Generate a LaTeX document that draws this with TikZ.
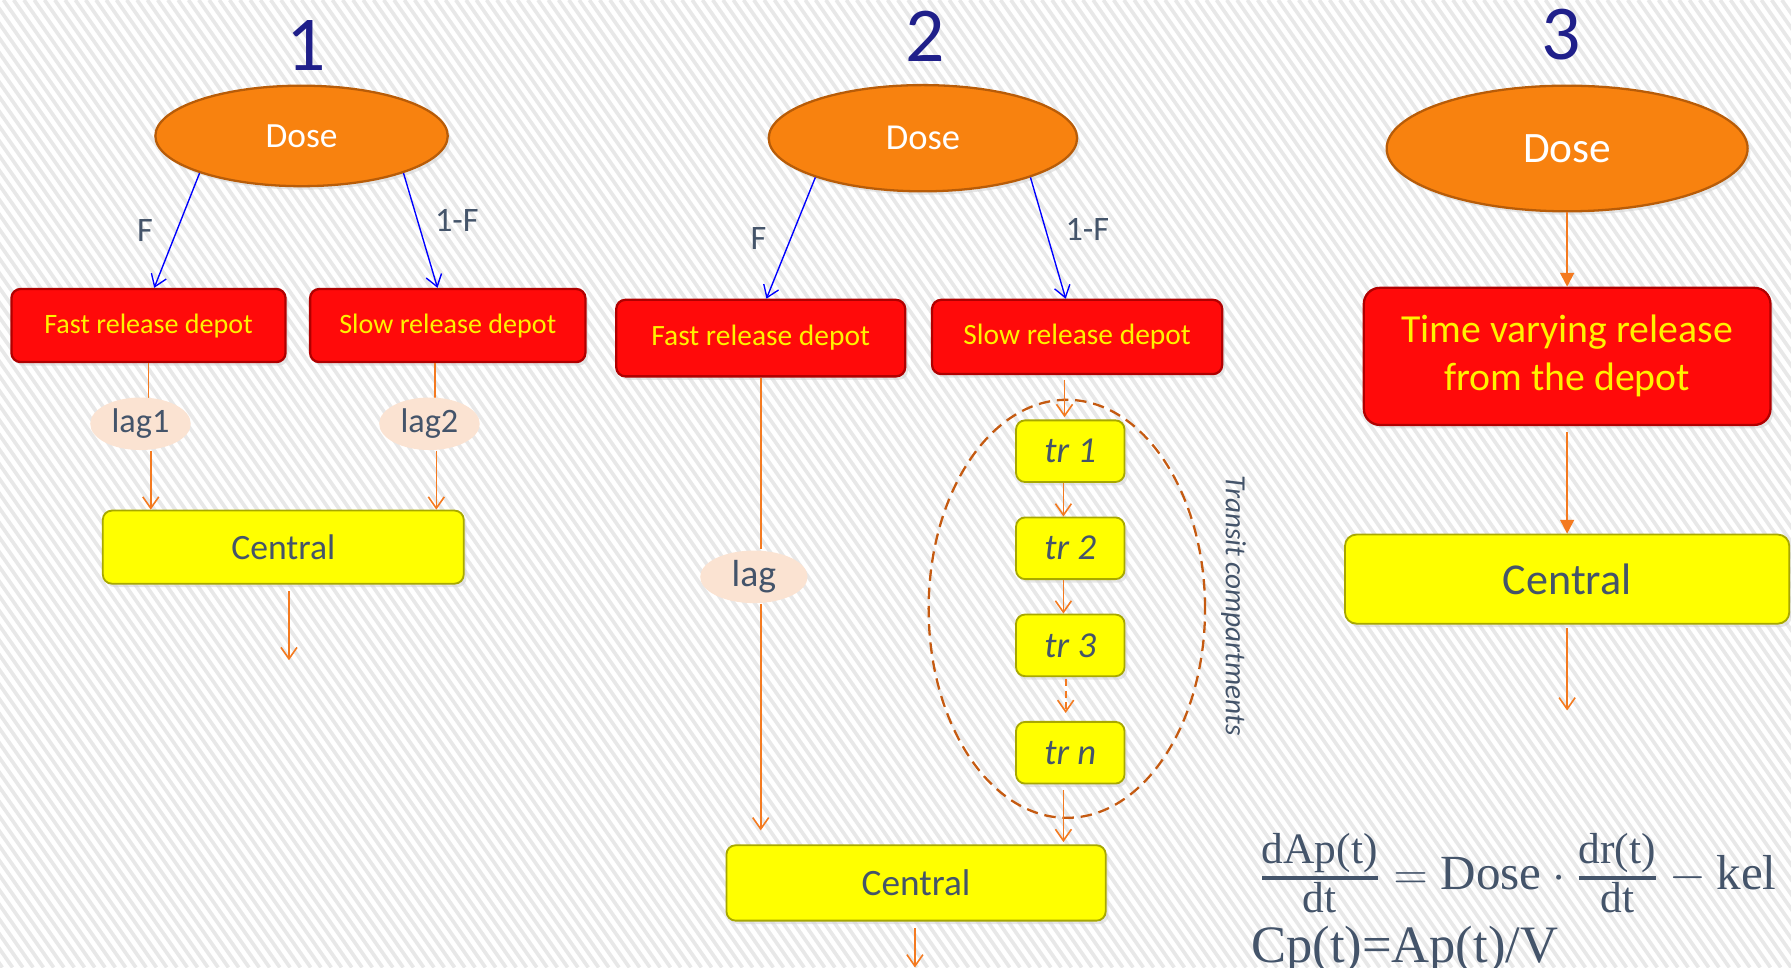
\documentclass[tikz,border=0pt]{standalone}
\usepackage{fontspec}
\setmainfont{Carlito}
\newfontfamily\eqfont{Liberation Serif}
\usetikzlibrary{arrows.meta,shapes.geometric,shadows,calc}
\definecolor{txt}{HTML}{44546A}
\definecolor{navy}{HTML}{1F1F8A}
\definecolor{dosefill}{HTML}{F8820F}
\definecolor{doseedge}{HTML}{B85C08}
\definecolor{depfill}{HTML}{FF0A0A}
\definecolor{depedge}{HTML}{B00000}
\definecolor{cenfill}{HTML}{FFFF00}
\definecolor{cenedge}{HTML}{A8A800}
\definecolor{lagfill}{HTML}{FBE3D2}
\definecolor{arr}{HTML}{F47A20}
\definecolor{grpline}{HTML}{C55A11}
\definecolor{stripecol}{HTML}{E8E8E8}
\newcommand\efs{\eqfont\fontsize{19}{19}\selectfont}
\begin{document}
\begin{tikzpicture}[x=0.5pt,y=-0.5pt,
  shad/.style={drop shadow={shadow xshift=1.2pt,shadow yshift=-1.5pt,fill=black!18}},
  dose/.style={ellipse, fill=dosefill, draw=doseedge, line width=1pt, text=white, inner sep=0pt, shad},
  depot/.style={rectangle, rounded corners=4pt, fill=depfill, draw=depedge, line width=1pt, text=yellow, inner sep=0pt, shad},
  cent/.style={rectangle, rounded corners=4pt, fill=cenfill, draw=cenedge, line width=0.8pt, text=txt, inner sep=0pt, shad},
  trbox/.style={cent, minimum width=47.5pt, minimum height=27pt, font=\fontsize{16}{19}\selectfont\itshape},
  lagn/.style={ellipse, fill=lagfill, text=txt, inner sep=0pt},
  blab/.style={text=txt, font=\fontsize{15}{18}\selectfont, inner sep=0pt},
  num/.style={text=navy, font=\fontsize{34}{40}\selectfont, inner sep=0pt},
  barr/.style={draw=blue, line width=0.6pt, -{Straight Barb[length=5pt,width=7pt]}},
  oarr/.style={draw=arr, line width=0.7pt, -{Straight Barb[length=5pt,width=7pt]}},
  oline/.style={draw=arr, line width=0.7pt},
  tarr/.style={draw=arr, line width=0.9pt, -{Triangle[length=6pt,width=6pt]}},
  grp/.style={ellipse, draw=grpline, line width=1pt, dash pattern=on 5pt off 3pt, minimum width=121pt, minimum height=183pt, inner sep=0pt},
  eq/.style={text=txt, font=\eqfont\fontsize{21.5}{26}\selectfont, inner sep=0pt}
]
\useasboundingbox (0,0) rectangle (1568,847);
\clip (0,0) rectangle (1568,847);
\fill[white] (0,0) rectangle (1568,847);
\foreach \i in {-600,-591,...,1568} \draw[stripecol, line width=1.6pt] (\i,0) -- ++(593,847);

% ---------- Panel 1 ----------
\node[num] (n1) at (268,40) {1};
\node[dose, minimum width=128pt, minimum height=44pt, font=\fontsize{15.5}{18}\selectfont] (d1) at (264,119) {Dose};
\node[depot, minimum width=120pt, minimum height=32pt, font=\fontsize{12.3}{15}\selectfont] (f1) at (130,285) {Fast release depot};
\node[depot, minimum width=120.5pt, minimum height=32pt, font=\fontsize{12.3}{15}\selectfont] (s1) at (392,285) {Slow release depot};
\node[cent, minimum width=158pt, minimum height=32pt, font=\fontsize{15.6}{18}\selectfont] (c1) at (248,479) {Central};
\draw[oline] (f1.south) -- ($(f1.south)+(0,31)$);
\draw[oline] ($(s1.south)+(-11,0)$) -- ($(s1.south)+(-11,31)$);
\node[lagn, minimum width=44pt, minimum height=23pt, font=\fontsize{15}{18}\selectfont] (l1) at (123,371) {lag1};
\node[lagn, minimum width=44pt, minimum height=23pt, font=\fontsize{15}{18}\selectfont] (l2) at (376,371) {lag2};
\draw[oarr] ($(f1.south|-l1.south)+(2,0)$) -- ($(f1.south|-c1.north)+(2,0)$);
\draw[oarr] ($(s1.south|-l2.south)+(-10,0)$) -- ($(s1.south|-c1.north)+(-10,0)$);
\draw[barr] (d1.200) -- ($(f1.north)+(5,0)$);
\draw[barr] (d1.340) -- ($(s1.north)+(-9,0)$);
\node[blab] (lF1) at (127,202) {F};
\node[blab] (lG1) at (400,193) {1-F};
\coordinate (e1) at (253,578);
\draw[oarr] ($(c1.south)+(5,6)$) -- (e1);

% ---------- Panel 2 ----------
\node[num] (n2) at (810,32) {2};
\node[dose, minimum width=135pt, minimum height=46.5pt, font=\fontsize{16}{19}\selectfont] (d2) at (808,121) {Dose};
\node[depot, minimum width=126.5pt, minimum height=33.5pt, font=\fontsize{12.9}{15}\selectfont] (f2) at (666,296) {Fast release depot};
\node[depot, minimum width=127pt, minimum height=32.5pt, font=\fontsize{12.9}{15}\selectfont] (s2) at (943,295) {Slow release depot};
\node[cent, minimum width=166pt, minimum height=33pt, font=\fontsize{16.3}{19}\selectfont] (c2) at (802,773) {Central};
\draw[oline] (f2.south) -- ($(f2.south)+(0,150)$);
\node[lagn, minimum width=47pt, minimum height=23pt, font=\fontsize{16.5}{19}\selectfont] (l3) at (660,505) {lag};
\coordinate (e2a) at (666,727);
\draw[oarr] (f2.south|-l3.south) -- (e2a);
\draw[barr] (d2.200) -- ($(f2.north)+(5,0)$);
\draw[barr] (d2.340) -- ($(s2.north)+(-10,0)$);
\node[blab] (lF2) at (664,209) {F};
\node[blab] (lG2) at (952,201) {1-F};

\node[grp] (g) at (934,533) {};
\node[trbox] (t1) at (937,395) {tr 1};
\node[trbox] (t2) at (937,480) {tr 2};
\node[trbox] (t3) at (937,565) {tr 3};
\node[trbox] (tn) at (937,659) {tr \textit{n}};
\node[text=txt, font=\fontsize{12.8}{15}\selectfont\itshape, rotate=-90, inner sep=0pt] (tcl) at (1080,530) {Transit compartments};

\draw[oarr] ($(s2.south)+(-11,4)$) -- ($(t1.north)+(-5,-2)$);
\draw[oarr] ($(t1.south)+(-6,0)$) -- ($(t2.north)+(-6,0)$);
\draw[oarr] ($(t2.south)+(-6,0)$) -- ($(t3.north)+(-6,0)$);
\draw[oarr, dash pattern=on 3pt off 2pt] ($(t3.south)+(-4,2)$) -- ($(tn.north)+(-4,-7)$);
\draw[oarr] ($(tn.south)+(-6,5)$) -- ($(c2.north)+(129,-2)$);
\coordinate (e2) at (801,847);
\draw[oarr] ($(c2.south)+(-1,6)$) -- (e2);

% ---------- Panel 3 ----------
\node[num] (n3) at (1367,30) {3};
\node[dose, minimum width=158pt, minimum height=55pt, font=\fontsize{19}{22}\selectfont] (d3) at (1372,130) {Dose};
\node[depot, rounded corners=7pt, minimum width=178pt, minimum height=60pt, align=center, font=\fontsize{17.4}{21}\selectfont] (tv) at (1372,312) {Time varying release\\from the depot};
\node[cent, rounded corners=5pt, minimum width=194.5pt, minimum height=39pt, font=\fontsize{19.3}{22}\selectfont] (c3) at (1372,507) {Central};
\draw[tarr] (d3.south) -- (tv.north);
\draw[tarr] ($(tv.south)+(0,5)$) -- (c3.north);
\coordinate (e3) at (1372,622);
\draw[oarr] ($(c3.south)+(0,3)$) -- (e3);

% ---------- Equations ----------
\node[eq, anchor=base west] (eq1) at (1102,779) {$\textstyle {\hbox{\efs dAp(t)}\above 1.4pt\hbox{\efs dt}} \mathrel{=} \hbox{Dose}\mathbin{\cdot}{\hbox{\efs dr(t)}\above 1.4pt\hbox{\efs dt}} - \hbox{kel}\mathbin{\cdot}\hbox{ }$};
\node[eq, anchor=base west, font=\eqfont\fontsize{23}{26}\selectfont] (eq2) at (1095,843) {Cp(t)=Ap(t)/V};
\end{tikzpicture}
\end{document}
